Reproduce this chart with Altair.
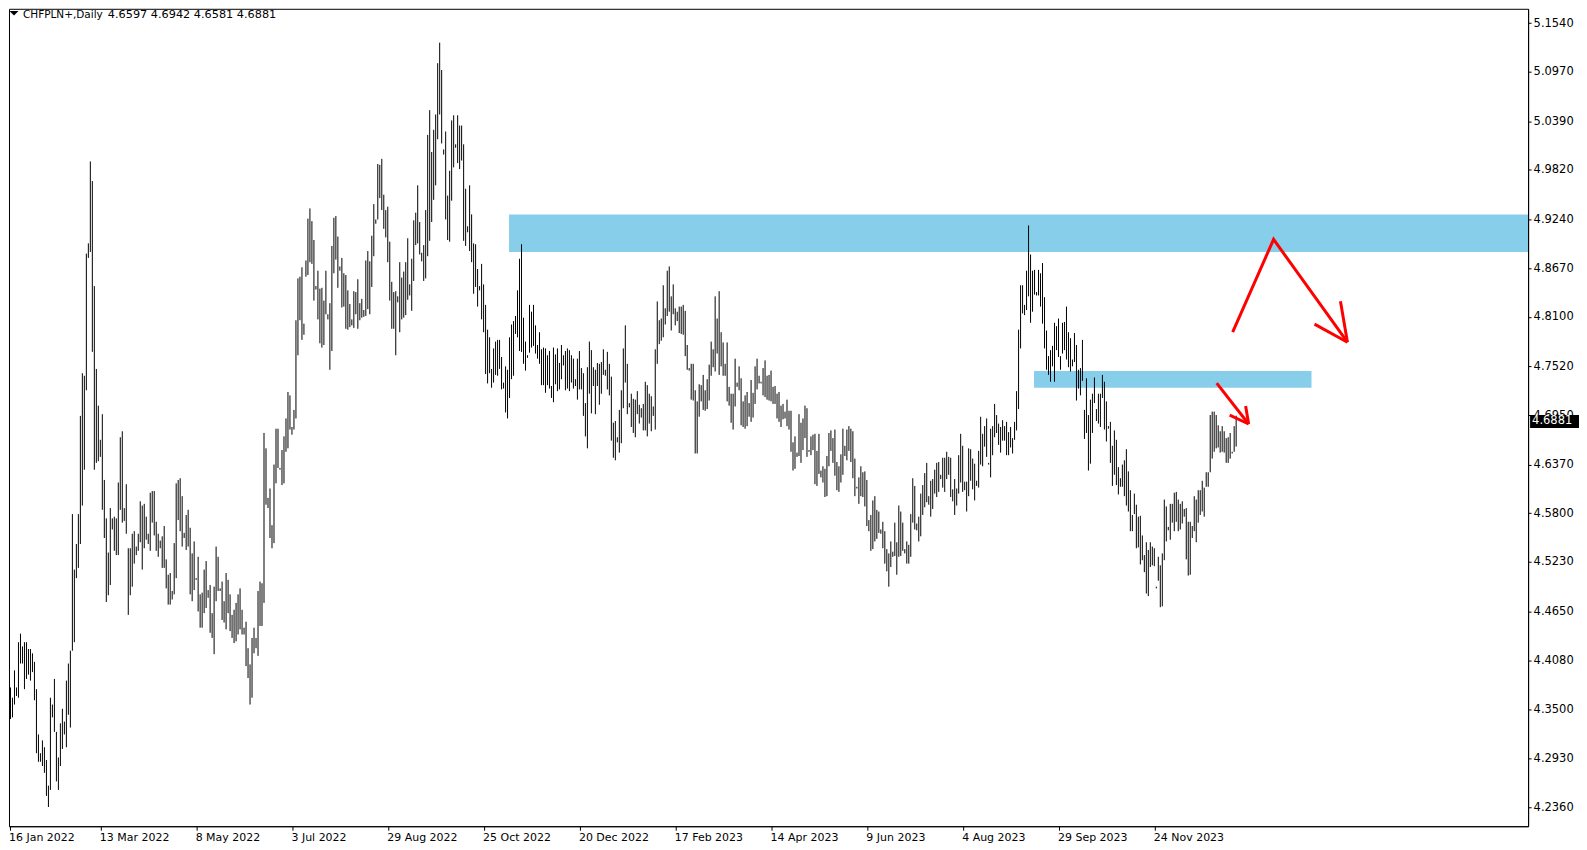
import altair as alt
import pandas as pd

# ---- data (daily bars, one per 2 px) ----
HIGH = [
    4.346, 4.364, 4.369, 4.376, 4.364, 4.396, 4.376, 4.429, 4.439, 4.424,
    4.429, 4.429, 4.421, 4.421, 4.416, 4.406, 4.374, 4.321, 4.299, 4.314,
    4.306, 4.291, 4.261, 4.364, 4.356, 4.386, 4.324, 4.294, 4.334, 4.351,
    4.336, 4.384, 4.404, 4.419, 4.579, 4.514, 4.544, 4.579, 4.694, 4.744,
    4.741, 4.884, 4.896, 4.992, 4.969, 4.846, 4.749, 4.706, 4.666, 4.696,
    4.619, 4.574, 4.534, 4.586, 4.574, 4.576, 4.574, 4.616, 4.669, 4.676,
    4.586, 4.614, 4.539, 4.539, 4.556, 4.559, 4.541, 4.556, 4.594, 4.589,
    4.591, 4.576, 4.556, 4.604, 4.606, 4.606, 4.570, 4.556, 4.548, 4.553,
    4.565, 4.526, 4.508, 4.510, 4.489, 4.545, 4.615, 4.619, 4.621, 4.600,
    4.557, 4.578, 4.584, 4.563, 4.533, 4.547, 4.504, 4.529, 4.485, 4.487,
    4.514, 4.524, 4.490, 4.496, 4.463, 4.494, 4.541, 4.529, 4.492, 4.500,
    4.477, 4.510, 4.502, 4.485, 4.461, 4.467, 4.475, 4.485, 4.492, 4.467,
    4.446, 4.453, 4.422, 4.403, 4.434, 4.446, 4.434, 4.489, 4.500, 4.498,
    4.674, 4.656, 4.598, 4.609, 4.566, 4.637, 4.679, 4.679, 4.633, 4.654,
    4.670, 4.691, 4.722, 4.718, 4.681, 4.701, 4.806, 4.855, 4.857, 4.868,
    4.802, 4.876, 4.925, 4.937, 4.922, 4.900, 4.846, 4.864, 4.843, 4.844,
    4.829, 4.864, 4.813, 4.826, 4.893, 4.926, 4.928, 4.904, 4.869, 4.879,
    4.861, 4.859, 4.841, 4.825, 4.807, 4.840, 4.839, 4.854, 4.826, 4.831,
    4.818, 4.876, 4.887, 4.875, 4.905, 4.942, 4.924, 4.989, 4.988, 4.995,
    4.953, 4.935, 4.939, 4.898, 4.851, 4.839, 4.840, 4.834, 4.874, 4.856,
    4.863, 4.874, 4.902, 4.848, 4.878, 4.923, 4.932, 4.964, 4.921, 4.885,
    4.894, 4.935, 5.023, 5.052, 5.003, 5.029, 5.047, 5.107, 5.131, 5.099,
    5.006, 5.027, 4.952, 4.981, 5.040, 5.046, 5.012, 5.046, 5.034, 5.034,
    5.012, 4.960, 4.916, 4.964, 4.930, 4.896, 4.895, 4.866, 4.846, 4.872,
    4.848, 4.824, 4.795, 4.786, 4.749, 4.773, 4.781, 4.783, 4.783, 4.763,
    4.733, 4.752, 4.748, 4.786, 4.801, 4.805, 4.811, 4.841, 4.878, 4.895,
    4.809, 4.781, 4.765, 4.824, 4.816, 4.824, 4.800, 4.777, 4.792, 4.772,
    4.774, 4.773, 4.765, 4.770, 4.729, 4.774, 4.766, 4.773, 4.756, 4.777,
    4.765, 4.770, 4.773, 4.771, 4.765, 4.761, 4.737, 4.761, 4.770, 4.750,
    4.744, 4.709, 4.751, 4.781, 4.771, 4.751, 4.748, 4.756, 4.755, 4.757,
    4.772, 4.748, 4.769, 4.755, 4.740, 4.686, 4.688, 4.669, 4.701, 4.724,
    4.773, 4.800, 4.755, 4.709, 4.720, 4.714, 4.713, 4.723, 4.707, 4.703,
    4.708, 4.734, 4.730, 4.720, 4.717, 4.705, 4.772, 4.828, 4.806, 4.808,
    4.847, 4.820, 4.864, 4.869, 4.834, 4.848, 4.820, 4.816, 4.822, 4.822,
    4.824, 4.817, 4.777, 4.750, 4.755, 4.755, 4.724, 4.711, 4.731, 4.730,
    4.742, 4.724, 4.737, 4.754, 4.781, 4.772, 4.834, 4.808, 4.840, 4.792,
    4.780, 4.755, 4.780, 4.728, 4.720, 4.720, 4.761, 4.733, 4.752, 4.738,
    4.711, 4.718, 4.722, 4.709, 4.736, 4.721, 4.752, 4.761, 4.741, 4.734,
    4.750, 4.759, 4.741, 4.742, 4.747, 4.728, 4.729, 4.720, 4.722, 4.706,
    4.708, 4.699, 4.713, 4.700, 4.700, 4.663, 4.670, 4.651, 4.696, 4.686,
    4.691, 4.706, 4.703, 4.654, 4.670, 4.672, 4.673, 4.653, 4.673, 4.630,
    4.635, 4.632, 4.647, 4.674, 4.677, 4.668, 4.678, 4.640, 4.635, 4.649,
    4.679, 4.659, 4.678, 4.682, 4.679, 4.676, 4.644, 4.611, 4.622, 4.635,
    4.628, 4.629, 4.619, 4.572, 4.578, 4.595, 4.600, 4.584, 4.582, 4.561,
    4.570, 4.559, 4.538, 4.533, 4.547, 4.535, 4.569, 4.546, 4.589, 4.582,
    4.569, 4.538, 4.547, 4.543, 4.579, 4.621, 4.612, 4.568, 4.576, 4.603,
    4.613, 4.627, 4.639, 4.600, 4.618, 4.620, 4.631, 4.639, 4.640, 4.625,
    4.645, 4.645, 4.652, 4.646, 4.645, 4.608, 4.620, 4.609, 4.648, 4.673,
    4.659, 4.617, 4.617, 4.656, 4.655, 4.644, 4.638, 4.618, 4.653, 4.693,
    4.673, 4.682, 4.691, 4.639, 4.679, 4.682, 4.708, 4.695, 4.685, 4.681,
    4.689, 4.682, 4.687, 4.675, 4.681, 4.668, 4.687, 4.723, 4.795, 4.847,
    4.847, 4.824, 4.864, 4.917, 4.883, 4.864, 4.865, 4.839, 4.865, 4.861,
    4.873, 4.833, 4.794, 4.764, 4.771, 4.776, 4.803, 4.799, 4.808, 4.764,
    4.803, 4.804, 4.822, 4.792, 4.785, 4.760, 4.791, 4.777, 4.748, 4.750,
    4.783, 4.701, 4.738, 4.695, 4.713, 4.720, 4.739, 4.702, 4.720, 4.720,
    4.742, 4.734, 4.711, 4.682, 4.687, 4.659, 4.677, 4.666, 4.634, 4.621,
    4.637, 4.642, 4.655, 4.629, 4.607, 4.578, 4.603, 4.590, 4.576, 4.577,
    4.554, 4.531, 4.546, 4.537, 4.546, 4.541, 4.539, 4.494, 4.529, 4.519,
    4.533, 4.596, 4.588, 4.564, 4.591, 4.591, 4.604, 4.605, 4.596, 4.591,
    4.594, 4.585, 4.586, 4.570, 4.570, 4.565, 4.600, 4.596, 4.607, 4.607,
    4.618, 4.610, 4.628, 4.628, 4.695, 4.699, 4.699, 4.695, 4.683, 4.676,
    4.682, 4.676, 4.668, 4.669, 4.674, 4.652, 4.682, 4.6942,
]

LOW = [
    4.336, 4.321, 4.331, 4.339, 4.341, 4.356, 4.366, 4.364, 4.404, 4.404,
    4.374, 4.386, 4.391, 4.384, 4.394, 4.361, 4.299, 4.289, 4.289, 4.284,
    4.276, 4.249, 4.236, 4.256, 4.341, 4.324, 4.266, 4.256, 4.284, 4.304,
    4.321, 4.306, 4.344, 4.329, 4.419, 4.429, 4.504, 4.516, 4.544, 4.589,
    4.631, 4.724, 4.879, 4.886, 4.769, 4.631, 4.639, 4.641, 4.646, 4.584,
    4.551, 4.476, 4.484, 4.496, 4.561, 4.536, 4.531, 4.531, 4.584, 4.569,
    4.571, 4.556, 4.461, 4.484, 4.494, 4.521, 4.531, 4.536, 4.546, 4.514,
    4.539, 4.549, 4.544, 4.536, 4.569, 4.554, 4.536, 4.529, 4.539, 4.516,
    4.516, 4.492, 4.473, 4.473, 4.479, 4.485, 4.504, 4.572, 4.559, 4.541,
    4.551, 4.537, 4.541, 4.485, 4.477, 4.490, 4.502, 4.465, 4.446, 4.446,
    4.463, 4.469, 4.481, 4.440, 4.434, 4.415, 4.477, 4.489, 4.489, 4.455,
    4.452, 4.444, 4.463, 4.442, 4.434, 4.428, 4.430, 4.438, 4.444, 4.438,
    4.438, 4.401, 4.387, 4.356, 4.364, 4.416, 4.422, 4.413, 4.448, 4.448,
    4.475, 4.590, 4.586, 4.551, 4.539, 4.545, 4.615, 4.633, 4.631, 4.613,
    4.615, 4.652, 4.656, 4.678, 4.672, 4.678, 4.691, 4.765, 4.806, 4.783,
    4.789, 4.857, 4.859, 4.874, 4.872, 4.829, 4.842, 4.807, 4.779, 4.774,
    4.777, 4.813, 4.807, 4.748, 4.770, 4.861, 4.877, 4.844, 4.864, 4.821,
    4.822, 4.796, 4.795, 4.798, 4.800, 4.797, 4.813, 4.796, 4.806, 4.809,
    4.810, 4.811, 4.819, 4.813, 4.845, 4.881, 4.919, 4.924, 4.949, 4.935,
    4.913, 4.903, 4.874, 4.829, 4.796, 4.796, 4.765, 4.827, 4.792, 4.807,
    4.809, 4.812, 4.830, 4.835, 4.817, 4.852, 4.894, 4.896, 4.883, 4.875,
    4.852, 4.855, 4.881, 4.899, 4.921, 4.947, 4.964, 5.018, 5.047, 5.013,
    5.000, 4.924, 4.900, 4.898, 4.946, 4.985, 5.008, 4.990, 4.983, 4.993,
    4.899, 4.893, 4.909, 4.887, 4.874, 4.837, 4.845, 4.822, 4.841, 4.807,
    4.792, 4.743, 4.732, 4.744, 4.727, 4.733, 4.742, 4.741, 4.749, 4.725,
    4.726, 4.698, 4.691, 4.715, 4.737, 4.741, 4.790, 4.786, 4.770, 4.769,
    4.755, 4.747, 4.762, 4.768, 4.774, 4.776, 4.767, 4.761, 4.755, 4.730,
    4.730, 4.721, 4.730, 4.726, 4.715, 4.710, 4.731, 4.723, 4.725, 4.737,
    4.753, 4.724, 4.726, 4.723, 4.733, 4.726, 4.729, 4.713, 4.725, 4.725,
    4.694, 4.670, 4.656, 4.720, 4.697, 4.729, 4.696, 4.729, 4.707, 4.720,
    4.742, 4.741, 4.725, 4.718, 4.665, 4.645, 4.642, 4.663, 4.651, 4.662,
    4.703, 4.733, 4.696, 4.704, 4.681, 4.674, 4.669, 4.696, 4.685, 4.692,
    4.677, 4.677, 4.670, 4.685, 4.676, 4.694, 4.678, 4.755, 4.778, 4.782,
    4.786, 4.801, 4.811, 4.816, 4.794, 4.813, 4.800, 4.805, 4.791, 4.790,
    4.789, 4.764, 4.748, 4.747, 4.713, 4.712, 4.650, 4.650, 4.693, 4.711,
    4.701, 4.700, 4.702, 4.712, 4.741, 4.751, 4.746, 4.767, 4.742, 4.752,
    4.741, 4.741, 4.711, 4.706, 4.686, 4.678, 4.705, 4.728, 4.724, 4.683,
    4.681, 4.679, 4.682, 4.693, 4.687, 4.692, 4.708, 4.725, 4.732, 4.732,
    4.718, 4.716, 4.713, 4.712, 4.711, 4.708, 4.708, 4.691, 4.687, 4.681,
    4.690, 4.691, 4.682, 4.678, 4.652, 4.630, 4.632, 4.646, 4.647, 4.639,
    4.654, 4.668, 4.646, 4.652, 4.648, 4.654, 4.614, 4.612, 4.626, 4.622,
    4.616, 4.599, 4.600, 4.635, 4.653, 4.639, 4.624, 4.607, 4.605, 4.616,
    4.625, 4.647, 4.642, 4.653, 4.640, 4.621, 4.600, 4.609, 4.591, 4.600,
    4.599, 4.588, 4.565, 4.559, 4.536, 4.538, 4.547, 4.550, 4.557, 4.556,
    4.539, 4.521, 4.512, 4.494, 4.517, 4.529, 4.530, 4.508, 4.529, 4.530,
    4.536, 4.533, 4.521, 4.521, 4.529, 4.569, 4.561, 4.560, 4.547, 4.553,
    4.578, 4.587, 4.593, 4.590, 4.576, 4.585, 4.603, 4.599, 4.605, 4.620,
    4.610, 4.605, 4.620, 4.625, 4.599, 4.594, 4.578, 4.589, 4.603, 4.616,
    4.605, 4.607, 4.582, 4.600, 4.618, 4.608, 4.595, 4.612, 4.610, 4.637,
    4.635, 4.658, 4.646, 4.637, 4.622, 4.648, 4.669, 4.674, 4.660, 4.651,
    4.665, 4.665, 4.648, 4.648, 4.657, 4.650, 4.666, 4.677, 4.702, 4.773,
    4.814, 4.812, 4.818, 4.834, 4.803, 4.816, 4.836, 4.835, 4.835, 4.822,
    4.802, 4.773, 4.748, 4.742, 4.734, 4.752, 4.734, 4.771, 4.763, 4.748,
    4.767, 4.771, 4.760, 4.751, 4.746, 4.752, 4.757, 4.712, 4.726, 4.718,
    4.735, 4.667, 4.674, 4.630, 4.638, 4.674, 4.709, 4.688, 4.685, 4.681,
    4.715, 4.678, 4.664, 4.679, 4.639, 4.612, 4.625, 4.613, 4.602, 4.611,
    4.611, 4.600, 4.589, 4.582, 4.559, 4.559, 4.579, 4.539, 4.540, 4.520,
    4.525, 4.511, 4.486, 4.483, 4.517, 4.519, 4.518, 4.492, 4.501, 4.470,
    4.471, 4.525, 4.547, 4.560, 4.549, 4.569, 4.559, 4.570, 4.559, 4.561,
    4.568, 4.576, 4.526, 4.507, 4.508, 4.551, 4.559, 4.546, 4.569, 4.578,
    4.582, 4.576, 4.611, 4.611, 4.628, 4.644, 4.652, 4.656, 4.657, 4.651,
    4.652, 4.651, 4.639, 4.639, 4.644, 4.650, 4.652, 4.6581,
]

SYMBOL = "CHFPLN+,Daily"
LAST_OHLC = [4.6597, 4.6942, 4.6581, 4.6881]

PRICE_TICKS = [5.1540, 5.0970, 5.0390, 4.9820, 4.9240, 4.8670, 4.8100, 4.7520,
               4.6950, 4.6370, 4.5800, 4.5230, 4.4650, 4.4080, 4.3500, 4.2930, 4.2360]
DATE_TICK_BARS = [0, 48, 96, 144, 192, 240, 288, 336, 384, 432, 480, 528, 576]
DATE_LABELS = ["16 Jan 2022", "13 Mar 2022", "8 May 2022", "3 Jul 2022", "29 Aug 2022",
               "25 Oct 2022", "20 Dec 2022", "17 Feb 2023", "14 Apr 2023", "9 Jun 2023",
               "4 Aug 2023", "29 Sep 2023", "24 Nov 2023"]

# supply / resistance zones (bar index and price)
ZONE_X0 = [252.75, 515.75]
ZONE_X1 = [763.25, 654.75]
ZONE_TOP = [4.9299, 4.7465]
ZONE_BOTTOM = [4.8859, 4.7269]

# red arrows drawn on the chart (bar index, price)
ARROW_SEG = ["big", "big", "big", "bigL", "bigL", "bigT", "bigT",
             "small", "small", "smallL", "smallL", "smallT", "smallT"]
ARROW_BAR = [615.25, 635.75, 672.75, 656.25, 672.75, 669.25, 672.75,
             607.25, 623.25, 613.75, 623.25, 621.75, 623.25]
ARROW_PRICE = [4.7920, 4.9007, 4.7803, 4.8014, 4.7803, 4.8283, 4.7803,
               4.7324, 4.6845, 4.6950, 4.6845, 4.7056, 4.6845]

# ---- chart ----
W, H = 1522, 819
FONT = "DejaVu Sans"
xs = alt.Scale(domain=[2.25, 763.25], nice=False, zero=False)
ys = alt.Scale(domain=[4.21349, 5.17071], nice=False, zero=False)

bars_df = pd.DataFrame({"bar": list(range(len(HIGH))), "high": HIGH, "low": LOW})
zones_df = pd.DataFrame({"x0": ZONE_X0, "x1": ZONE_X1, "top": ZONE_TOP, "bottom": ZONE_BOTTOM})
arrows_df = pd.DataFrame({"seg": ARROW_SEG, "bar": ARROW_BAR, "price": ARROW_PRICE,
                          "ord": list(range(len(ARROW_BAR)))})

axis_vals = [max(v, 2.5) for v in DATE_TICK_BARS]
expr = "''"
for v, lab in reversed(list(zip(axis_vals, DATE_LABELS))):
    expr = f"abs(datum.value - {v}) < 1 ? '{lab}' : ({expr})"

x_axis = alt.Axis(values=axis_vals, labelExpr=expr, orient="bottom", title=None, grid=False,
                  domain=True, domainColor="black", ticks=True, tickColor="black", tickSize=4,
                  labelAlign="left", labelBaseline="top", labelPadding=1, labelOffset=-1,
                  labelFont=FONT, labelFontSize=11, labelColor="black",
                  labelFlush=False, labelOverlap=False)
y_axis = alt.Axis(values=PRICE_TICKS, format=".4f", orient="right", title=None, grid=False,
                  domain=True, domainColor="black", ticks=True, tickColor="black", tickSize=3,
                  labelPadding=2, labelFont=FONT, labelFontSize=11.5, labelColor="black",
                  labelFlush=False, labelOverlap=False)


def X(field):
    return alt.X(field, scale=xs, axis=x_axis, title=None)


def Y(field):
    return alt.Y(field, scale=ys, axis=y_axis, title=None)


zones = alt.Chart(zones_df).mark_rect(color="#87CEEB", clip=True).encode(
    x=X("x0:Q"), x2="x1:Q", y=Y("top:Q"), y2="bottom:Q")

bars = alt.Chart(bars_df).mark_rule(color="black", strokeWidth=1, clip=True).encode(
    x=X("bar:Q"), y=Y("low:Q"), y2="high:Q")

arrows = alt.Chart(arrows_df).mark_line(color="#FF0000", strokeWidth=3, clip=True).encode(
    x=X("bar:Q"), y=Y("price:Q"), detail="seg:N", order="ord:Q")

last_df = pd.DataFrame({"price": [LAST_OHLC[3]]})
price_box = alt.Chart(last_df).transform_calculate(
    top="datum.price + 0.0069", bot="datum.price - 0.0083"
).mark_rect(color="black").encode(
    x=alt.value(W + 2), x2=alt.value(W + 51), y=Y("top:Q"), y2="bot:Q")
price_text = alt.Chart(last_df).mark_text(
    color="white", align="left", baseline="middle", font=FONT, fontSize=11.5
).encode(x=alt.value(W + 4), y=Y("price:Q"), text=alt.Text("price:Q", format=".4f"))

tri = alt.Chart(pd.DataFrame({"a": [0]})).mark_point(
    shape="M-1,-0.5L1,-0.5L0,0.5Z", filled=True, color="black", opacity=1, size=81, strokeWidth=0
).encode(x=alt.value(5), y=alt.value(4.5))

hdr_name = alt.Chart(pd.DataFrame({"t": [SYMBOL]})).mark_text(
    align="left", baseline="alphabetic", font=FONT, fontSize=10.5, color="black"
).encode(x=alt.value(14), y=alt.value(9.5), text="t:N")

hdr_vals = alt.Chart(pd.DataFrame({"t": [" ".join(f"{v:.4f}" for v in LAST_OHLC)]})).mark_text(
    align="left", baseline="alphabetic", font=FONT, fontSize=11.3, color="black"
).encode(x=alt.value(99), y=alt.value(9.5), text="t:N")

chart = alt.layer(zones, bars, arrows, price_box, price_text, tri, hdr_name, hdr_vals).properties(
    width=W, height=H, padding=0, background="white"
).configure_view(stroke="black", strokeWidth=1)

chart.save("out.html", embed_options={"renderer": "svg", "actions": False})
